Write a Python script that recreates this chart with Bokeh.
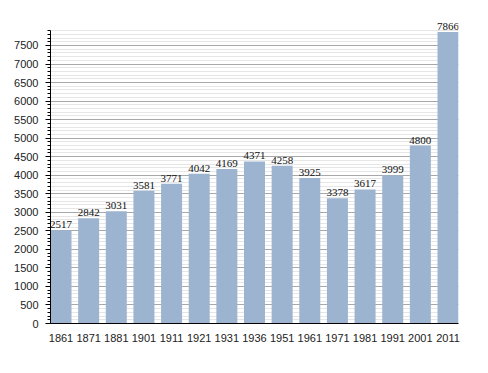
from bokeh.plotting import figure
from bokeh.models import ColumnDataSource, Range1d, FixedTicker, LabelSet
from bokeh.embed import file_html
from bokeh.resources import INLINE

years = ["1861", "1871", "1881", "1901", "1911", "1921", "1931", "1936",
         "1951", "1961", "1971", "1981", "1991", "2001", "2011"]
population = [2517, 2842, 3031, 3581, 3771, 4042, 4169, 4371,
              4258, 3925, 3378, 3617, 3999, 4800, 7866]
y_major_ticks = list(range(0, 8000, 500))
y_minor_ticks = list(range(0, 8000, 100))

idx = list(range(len(years)))
src = ColumnDataSource(dict(x=idx, y=population, lbl=[str(v) for v in population]))

p = figure(width=480, height=365, output_backend="svg", toolbar_location=None,
           x_range=Range1d(-0.38, len(years) - 1 + 0.38), y_range=Range1d(0, 8336),
           min_border_left=50, min_border_right=22, min_border_top=14, min_border_bottom=42)
p.outline_line_color = None
p.background_fill_color = "white"

p.vbar(x="x", top="y", width=0.76, source=src, fill_color="#9cb4cf", line_color=None)

labels = LabelSet(x="x", y="y", text="lbl", source=src, text_align="center",
                  text_baseline="bottom", y_offset=2, text_font_size="11px",
                  text_color="#111111", text_font="Liberation Sans")
p.add_layout(labels)

p.xgrid.visible = False
p.ygrid.ticker = FixedTicker(ticks=y_major_ticks, minor_ticks=y_minor_ticks)
p.ygrid.bounds = (0, 7905)
p.ygrid.grid_line_color = "#a8a8a8"
p.ygrid.grid_line_width = 1
p.ygrid.minor_grid_line_color = "#e6e6e6"
p.ygrid.level = "underlay"

p.yaxis.ticker = FixedTicker(ticks=y_major_ticks, minor_ticks=y_minor_ticks)
p.yaxis.bounds = (0, 7905)
p.yaxis.major_tick_out = 5
p.yaxis.major_tick_in = 0
p.yaxis.minor_tick_out = 3
p.yaxis.minor_tick_in = 0
p.yaxis.axis_line_color = "black"
p.yaxis.major_tick_line_color = "black"
p.yaxis.minor_tick_line_color = "black"
p.yaxis.major_label_text_font_size = "11px"
p.yaxis.major_label_text_font = "Liberation Sans"
p.yaxis.major_label_text_color = "#222222"
p.yaxis.major_label_standoff = 7

p.xaxis.ticker = FixedTicker(ticks=idx)
p.xaxis.major_label_overrides = {i: y for i, y in enumerate(years)}
p.xaxis.major_tick_line_color = None
p.xaxis.minor_tick_line_color = None
p.xaxis.axis_line_color = "black"
p.xaxis.major_label_text_font_size = "11px"
p.xaxis.major_label_text_font = "Liberation Sans"
p.xaxis.major_label_text_color = "#222222"
p.xaxis.major_label_standoff = 4

open("out.html", "w").write(file_html(p, INLINE))
